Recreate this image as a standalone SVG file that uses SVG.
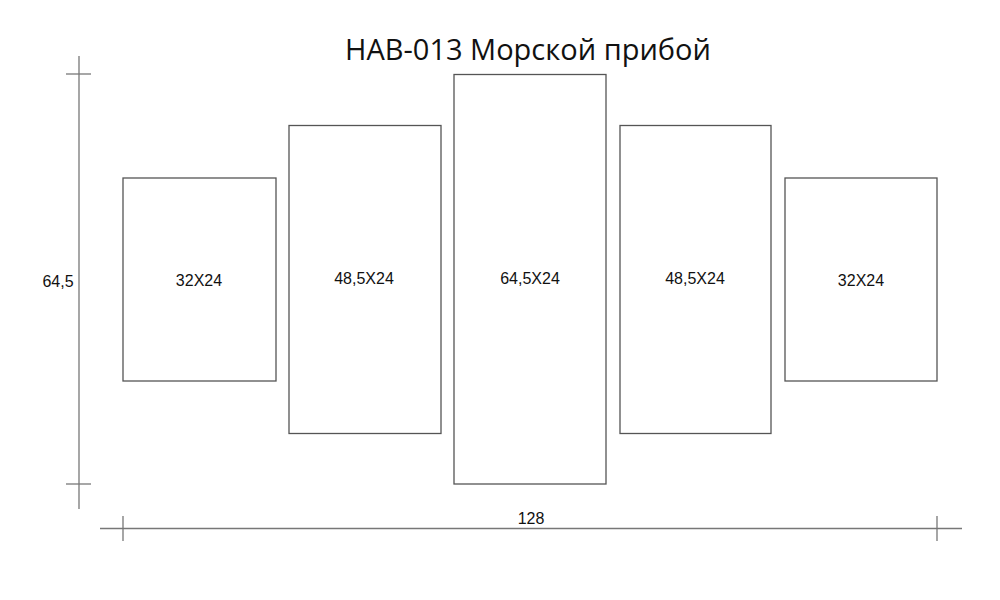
<svg xmlns="http://www.w3.org/2000/svg" width="1000" height="600" viewBox="0 0 1000 600">
<style>
.panel{fill:#fff;stroke:#555;stroke-width:1.3}
.dim{stroke:#777;stroke-width:1.3;fill:none}
.lbl{font-family:"Liberation Sans",Arial,sans-serif;font-size:16px;fill:#111;text-anchor:middle}
.title{font-family:"Open Sans","Liberation Sans",sans-serif;font-size:29px;fill:#111;text-anchor:middle}
</style>
<rect width="1000" height="600" fill="#fff"/>
<text class="title" x="528" y="60">HAB-013 Морской прибой</text>
<g id="connectors">
<line class="dim" x1="79" y1="56" x2="79" y2="509"/>
<line class="dim" x1="66" y1="74" x2="91" y2="74"/>
<line class="dim" x1="66" y1="484" x2="91" y2="484"/>
<line class="dim" x1="100" y1="528.5" x2="962" y2="528.5" stroke-width="1.6"/>
<line class="dim" x1="123" y1="516" x2="123" y2="541"/>
<line class="dim" x1="937" y1="516" x2="937" y2="541"/>
<text class="lbl" x="58" y="287">64,5</text>
<text class="lbl" x="531" y="524">128</text>
</g>
<g id="p1"><rect class="panel" x="123" y="178" width="153" height="203"/><text class="lbl" x="199" y="286">32X24</text></g>
<g id="p2"><rect class="panel" x="289" y="125.5" width="152" height="308"/><text class="lbl" x="364" y="284">48,5X24</text></g>
<g id="p3"><rect class="panel" x="454" y="74.5" width="152" height="409.5"/><text class="lbl" x="530" y="284">64,5X24</text></g>
<g id="p4"><rect class="panel" x="620" y="125.5" width="151" height="308"/><text class="lbl" x="695" y="284">48,5X24</text></g>
<g id="p5"><rect class="panel" x="785" y="178" width="152" height="203"/><text class="lbl" x="861" y="286">32X24</text></g>
</svg>
